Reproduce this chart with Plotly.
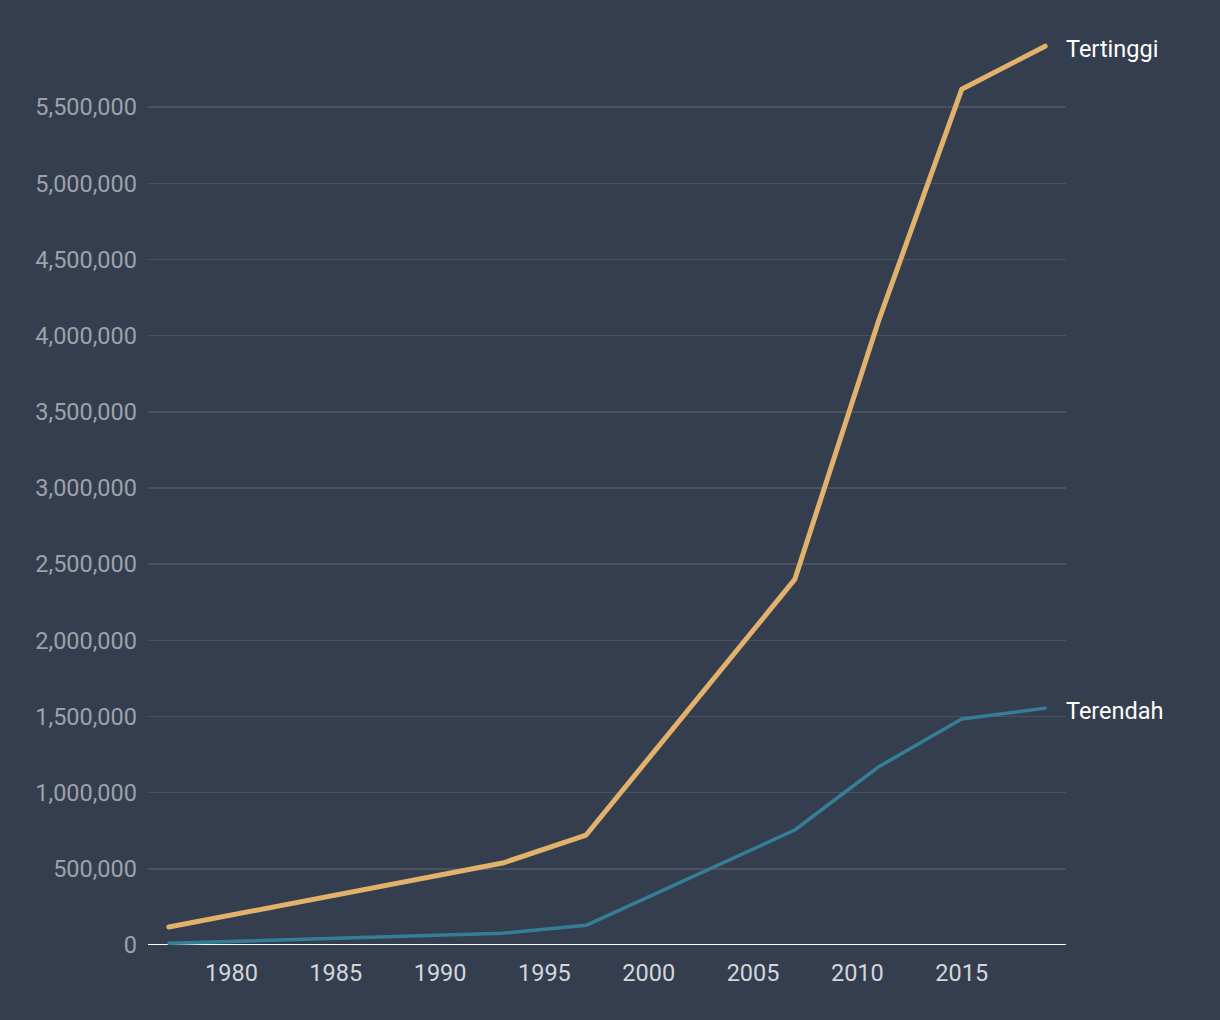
import plotly.graph_objects as go

years = [1977, 1993, 1997, 2007, 2011, 2015, 2019]
tertinggi = [118000, 538000, 722000, 2400000, 4090000, 5617000, 5900000]
terendah = [11000, 77000, 129000, 755000, 1168000, 1483000, 1555000]

x_ticks = [1980, 1985, 1990, 1995, 2000, 2005, 2010, 2015]
y_ticks = [0, 500000, 1000000, 1500000, 2000000, 2500000, 3000000,
           3500000, 4000000, 4500000, 5000000, 5500000]
y_labels = [f"{v:,}" for v in y_ticks]

BG = "#343e4f"
ORANGE = "#e2b26a"
BLUE = "#347f97"
FS = 23.5

fig = go.Figure()
fig.add_trace(go.Scatter(x=years, y=terendah, mode="lines", name="Terendah",
                         line=dict(color=BLUE, width=3.5), hoverinfo="skip"))
fig.add_trace(go.Scatter(x=years, y=tertinggi, mode="lines", name="Tertinggi",
                         line=dict(color=ORANGE, width=5), hoverinfo="skip"))

fig.add_annotation(x=years[-1], y=tertinggi[-1], text="Tertinggi", xref="x", yref="y",
                   xanchor="left", yanchor="middle", xshift=19, yshift=-3, showarrow=False,
                   font=dict(family="Roboto", size=FS, color="#ffffff"))
fig.add_annotation(x=years[-1], y=terendah[-1], text="Terendah", xref="x", yref="y",
                   xanchor="left", yanchor="middle", xshift=19, yshift=-3, showarrow=False,
                   font=dict(family="Roboto", size=FS, color="#ffffff"))

fig.update_layout(
    width=1220, height=1020,
    paper_bgcolor=BG, plot_bgcolor=BG,
    margin=dict(l=148, r=154, t=31, b=75),
    showlegend=False,
    hovermode=False,
    font=dict(family="Roboto"),
    xaxis=dict(range=[1976, 2020], tickvals=x_ticks, ticktext=[str(v) for v in x_ticks],
               showgrid=False, zeroline=False, showline=False,
               tickfont=dict(size=FS, color="#d3d6db"), ticks="", ticklabelstandoff=11),
    yaxis=dict(range=[0, 6000000], tickvals=y_ticks, ticktext=y_labels,
               showgrid=True, gridcolor="#4a5261", gridwidth=1.5, zeroline=False,
               showline=False, tickfont=dict(size=FS, color="#9ba2ac"), ticks="",
               ticklabelstandoff=10),
    shapes=[dict(type="line", xref="paper", yref="y", x0=0, x1=1, y0=0, y1=0,
                 line=dict(color="#ffffff", width=2), layer="below")],
)

fig.write_html(
    "out.html",
    config={"displayModeBar": False, "staticPlot": True},
    post_script="document.body.style.margin='0';document.body.style.padding='0';"
                "document.body.style.background='#343e4f';document.body.style.overflow='hidden';"
                "document.querySelectorAll('.scatterlayer path.js-line').forEach(function(p){"
                "p.style.strokeLinecap='round';p.style.strokeLinejoin='round';});",
)
